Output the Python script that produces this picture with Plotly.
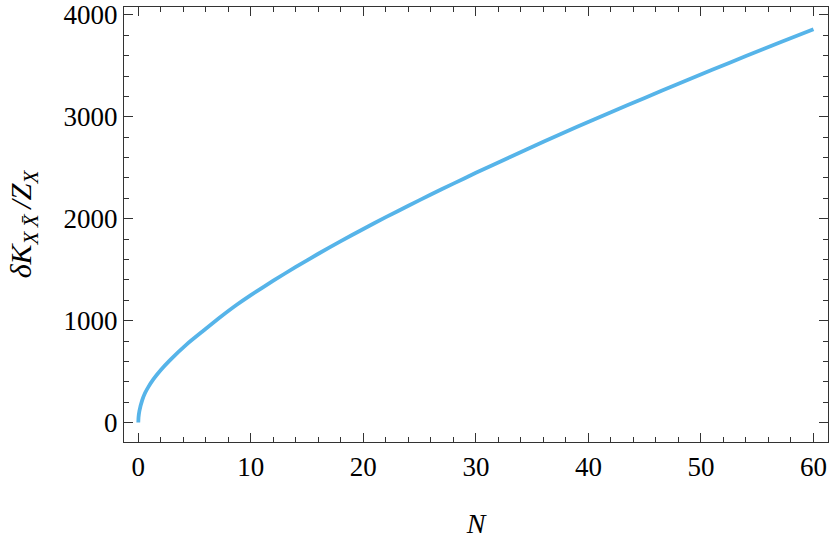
import plotly.graph_objects as go

# Data
n_values = [0, 0.02, 0.1, 0.35, 0.6, 0.9, 1.35, 2.0, 2.8, 4.3, 5.8, 7.3, 8.75,
            10, 12, 14, 16, 18, 20, 22, 24, 26, 28, 30, 33, 36, 39, 42, 45,
            48, 51, 54, 57, 60]
k_values = [0, 50, 115, 220, 290, 350, 425, 515, 610, 767, 902, 1035, 1155,
            1250, 1392, 1527, 1656, 1780, 1899, 2015, 2127, 2237, 2344, 2450,
            2603, 2754, 2901, 3045, 3185, 3324, 3461, 3596, 3728, 3858]

x_ticks = [0, 10, 20, 30, 40, 50, 60]
y_ticks = [0, 1000, 2000, 3000, 4000]

FONT = "Liberation Serif"
AX = "#333333"

fig = go.Figure()
fig.add_trace(go.Scatter(
    x=n_values, y=k_values, mode="lines",
    line=dict(color="rgb(86,180,233)", width=3.8, shape="spline", smoothing=0.5),
    showlegend=False, hoverinfo="skip",
))

fig.update_xaxes(
    showgrid=False, zeroline=False, showline=True, linecolor=AX, linewidth=1.3,
    mirror="allticks", ticks="inside", ticklen=9, tickwidth=1.2, tickcolor=AX,
    tickfont=dict(family=FONT, size=27, color="black"), automargin=False,
    range=[-1.27, 61.29], tickvals=x_ticks,
    minor=dict(dtick=2, tick0=0, ticks="inside", ticklen=5, tickwidth=1.2, tickcolor=AX),
    title=dict(text="<i>N</i>", font=dict(family=FONT, size=28, color="black"), standoff=32),
)
fig.update_yaxes(
    showgrid=False, zeroline=False, showline=True, linecolor=AX, linewidth=1.3,
    mirror="allticks", ticks="inside", ticklen=9, tickwidth=1.2, tickcolor=AX,
    tickfont=dict(family=FONT, size=27, color="black"), automargin=False,
    range=[-191, 4077], tickvals=y_ticks,
    minor=dict(dtick=200, tick0=0, ticks="inside", ticklen=5, tickwidth=1.2, tickcolor=AX),
    title=dict(text="<i>δK</i><sub><i>X\u2009X̄</i></sub><i>\u2009/Z</i><sub><i>X</i></sub>",
               font=dict(family=FONT, size=30, color="black"), standoff=22),
)

fig.update_layout(
    width=830, height=548,
    margin=dict(l=124, r=2, t=7, b=106),
    paper_bgcolor="white", plot_bgcolor="white",
)

fig.write_html("out.html", config={"displayModeBar": False},
               post_script="document.body.style.margin='0';")
